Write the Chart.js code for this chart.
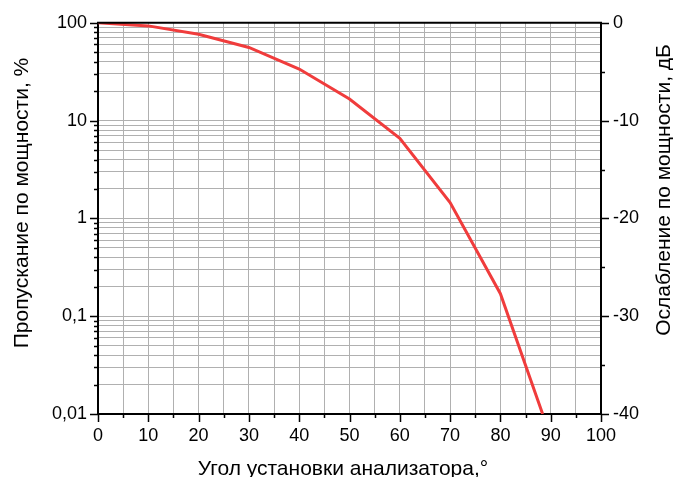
<!DOCTYPE html>
<html>
<head>
<meta charset="utf-8">
<script src="https://cdn.jsdelivr.net/npm/chart.js@4.4.0/dist/chart.umd.min.js"></script>
<style>
    html, body { margin: 0; padding: 0; background: #fff; }
    #wrap { width: 673px; height: 477px; }
</style>
</head>
<body>
<div id="wrap"><canvas id="chart" width="673" height="477"></canvas></div>
<script>
// angle of analyzer, degrees
const angles = [0, 10, 20, 30, 40, 50, 60, 70, 80, 88.4];
// power transmission, %
const transmission = [100, 93, 76.5, 56, 33.7, 16.6, 6.6, 1.45, 0.17, 0.01];

const xTicks = [0, 10, 20, 30, 40, 50, 60, 70, 80, 90, 100];
const yDecades = [0.01, 0.1, 1, 10, 100];
const yLabels = ['0,01', '0,1', '1', '10', '100'];
const dbTicks = [0, -10, -20, -30, -40];

const xTitle = 'Угол установки анализатора,°';
const yTitle = 'Пропускание по мощности, %';
const y2Title = 'Ослабление по мощности, дБ';

const FONT = "'Liberation Sans', Arial, sans-serif";
const gridColor = '#b0b0b0';

// log minor ticks 1..9 per decade
function logTicks() {
    const out = [];
    for (let i = 0; i < yDecades.length - 1; i++) {
        for (let k = 1; k < 10; k++) out.push(yDecades[i] * k);
    }
    out.push(yDecades[yDecades.length - 1]);
    return out;
}

const tickMarks = {
    id: 'tickMarks',
    afterDraw(chart) {
        const ctx = chart.ctx;
        const a = chart.chartArea;
        const x = chart.scales.x, y = chart.scales.y, y2 = chart.scales.y2;
        ctx.save();
        ctx.strokeStyle = '#000';
        ctx.lineWidth = 1.5;
        ctx.beginPath();
        // bottom ticks every 5
        for (let v = 0; v <= 100; v += 5) {
            const px = Math.round(x.getPixelForValue(v)) + 0.5;
            ctx.moveTo(px, a.bottom);
            ctx.lineTo(px, a.bottom + (v % 10 === 0 ? 8 : 4));
        }
        // left log ticks
        logTicks().forEach(v => {
            const py = Math.round(y.getPixelForValue(v)) + 0.5;
            const major = yDecades.some(d => Math.abs(d - v) < 1e-9);
            ctx.moveTo(a.left, py);
            ctx.lineTo(a.left - (major ? 8 : 4), py);
        });
        // right dB ticks every 5
        for (let v = 0; v >= -40; v -= 5) {
            const py = Math.round(y2.getPixelForValue(v)) + 0.5;
            ctx.moveTo(a.right, py);
            ctx.lineTo(a.right + (v % 10 === 0 ? 8 : 4), py);
        }
        ctx.stroke();
        // top frame
        ctx.lineWidth = 2;
        ctx.beginPath();
        ctx.moveTo(a.left - 1, a.top);
        ctx.lineTo(a.right + 1, a.top);
        ctx.stroke();

        // axis titles
        ctx.fillStyle = '#000';
        ctx.font = '21px ' + FONT;
        ctx.textAlign = 'center';
        ctx.textBaseline = 'alphabetic';
        ctx.fillText(xTitle, 343, 475);
        ctx.save();
        ctx.translate(28, 203);
        ctx.rotate(-Math.PI / 2);
        ctx.fillText(yTitle, 0, 0);
        ctx.restore();
        ctx.save();
        ctx.translate(670, 190);
        ctx.rotate(-Math.PI / 2);
        ctx.fillText(y2Title, 0, 0);
        ctx.restore();
        ctx.restore();
    }
};

new Chart(document.getElementById('chart'), {
    type: 'line',
    data: {
        datasets: [{
            data: angles.map((a, i) => ({ x: a, y: transmission[i] })),
            borderColor: '#f03c3c',
            borderWidth: 3,
            pointRadius: 0,
            tension: 0,
            yAxisID: 'y'
        }]
    },
    options: {
        responsive: false,
        animation: false,
        layout: { padding: { top: 22, left: 0, right: 0, bottom: 0 } },
        plugins: { legend: { display: false }, tooltip: { enabled: false } },
        scales: {
            x: {
                type: 'linear',
                min: 0,
                max: 100,
                afterFit: s => { s.height = 63; },
                afterBuildTicks: s => {
                    const t = [];
                    for (let v = 0; v <= 100; v += 5) t.push({ value: v });
                    s.ticks = t;
                },
                ticks: {
                    autoSkip: false,
                    maxRotation: 0,
                    padding: 11,
                    color: '#000',
                    font: { family: FONT, size: 18 },
                    callback: v => xTicks.includes(v) ? String(v) : ''
                },
                grid: { color: gridColor, lineWidth: 1, drawTicks: false },
                border: { color: '#000', width: 2 }
            },
            y: {
                type: 'logarithmic',
                position: 'left',
                min: 0.01,
                max: 100,
                afterFit: s => { s.width = 98; },
                afterBuildTicks: s => {
                    s.ticks = logTicks().map(v => ({ value: v }));
                },
                ticks: {
                    autoSkip: false,
                    padding: 11,
                    color: '#000',
                    font: { family: FONT, size: 18 },
                    callback: v => {
                        const i = yDecades.findIndex(d => Math.abs(d - v) < 1e-9);
                        return i >= 0 ? yLabels[i] : '';
                    }
                },
                grid: { color: gridColor, lineWidth: 1, drawTicks: false },
                border: { color: '#000', width: 2 }
            },
            y2: {
                type: 'linear',
                position: 'right',
                min: -40,
                max: 0,
                afterFit: s => { s.width = 72; },
                afterBuildTicks: s => {
                    const t = [];
                    for (let v = 0; v >= -40; v -= 5) t.push({ value: v });
                    s.ticks = t;
                },
                ticks: {
                    autoSkip: false,
                    padding: 12,
                    color: '#000',
                    font: { family: FONT, size: 18 },
                    callback: v => dbTicks.includes(v) ? String(v) : ''
                },
                grid: { drawOnChartArea: false, drawTicks: false },
                border: { color: '#000', width: 2 }
            }
        }
    },
    plugins: [tickMarks]
});
</script>
</body>
</html>
